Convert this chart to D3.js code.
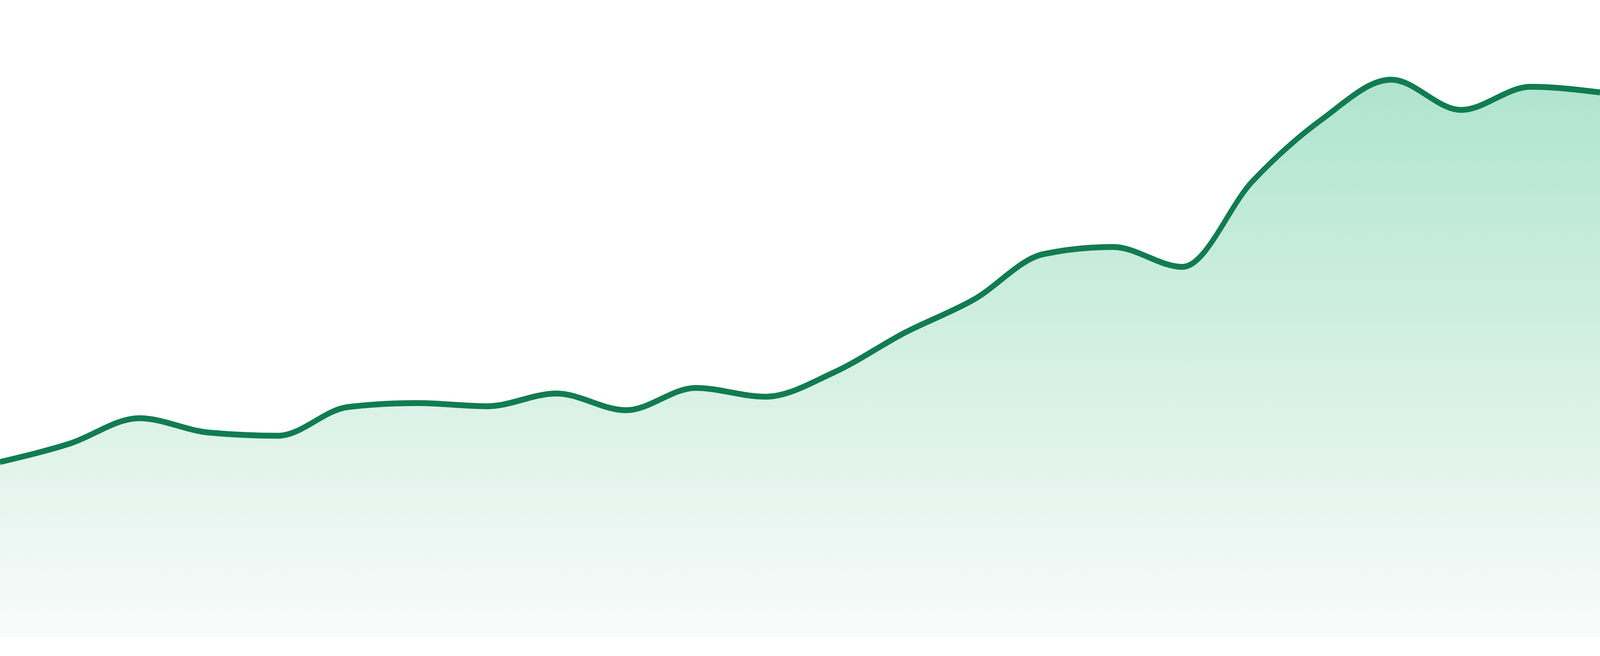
<!DOCTYPE html>
<html>
<head>
<meta charset="utf-8">
<script src="https://cdn.jsdelivr.net/npm/d3@7"></script>
<style>
  html, body { margin: 0; padding: 0; background: #fff; overflow: hidden; width: 100%; height: 100%; }
  #chart { width: 100vw; height: 100vh; }
  svg { display: block; width: 100%; height: 100%; }
</style>
</head>
<body>
<div id="chart"></div>
<script>
const days = ["D1","D2","D3","D4","D5","D6","D7","D8","D9","D10","D11","D12",
              "D13","D14","D15","D16","D17","D18","D19","D20","D21","D22","D23","D24"];
const values = [22.0, 24.3, 27.5, 25.7, 25.3, 28.9, 29.4, 29.0, 30.6, 28.5, 31.3, 30.2,
                33.3, 38.2, 42.4, 48.1, 49.0, 46.5, 57.2, 65.0, 70.0, 66.2, 69.1, 68.4];
const yDomain = [0, 80];

const width = 4800, height = 1680, baseline = 1632;
const data = days.map((d, i) => ({ day: d, value: values[i] }));

const xScale = d3.scalePoint().domain(days).range([0, width]);
const yScale = d3.scaleLinear().domain(yDomain).range([baseline, 0]);

// drawn in a fixed 4800x1680 box, stretched to whatever the window is
const svg = d3.select("#chart").append("svg")
  .attr("viewBox", `0 0 ${width} ${height}`)
  .attr("preserveAspectRatio", "none");

const grad = svg.append("defs").append("linearGradient")
  .attr("id", "fillGrad").attr("gradientUnits", "userSpaceOnUse")
  .attr("x1", 0).attr("x2", 0)
  .attr("y1", yScale(d3.max(values))).attr("y2", baseline);
grad.append("stop").attr("offset", "0%").attr("stop-color", "#afe4cf");
grad.append("stop").attr("offset", "100%").attr("stop-color", "#f9fbfa");

const area = d3.area().curve(d3.curveMonotoneX)
  .x(d => xScale(d.day)).y0(baseline).y1(d => yScale(d.value));
const line = d3.line().curve(d3.curveMonotoneX)
  .x(d => xScale(d.day)).y(d => yScale(d.value));

svg.append("path").datum(data).attr("d", area).attr("fill", "url(#fillGrad)");
svg.append("path").datum(data).attr("d", line)
  .attr("fill", "none").attr("stroke", "#117c52").attr("stroke-width", 15)
  .attr("stroke-linejoin", "round");
</script>
</body>
</html>
